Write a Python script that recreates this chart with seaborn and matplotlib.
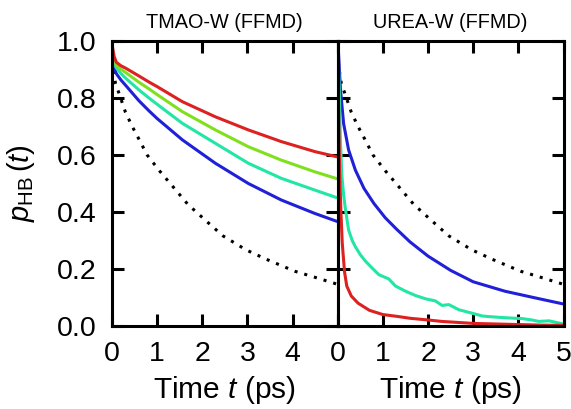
import numpy as np
import matplotlib
matplotlib.use("Agg")
import matplotlib.pyplot as plt
import seaborn as sns

# TMAO-W (FFMD) panel, time in ps
t_tmao = [0, 0.05, 0.1, 0.2, 0.3, 0.6, 0.82, 1.0, 1.56, 2.29, 3.02, 3.75, 4.49, 5.0]
tmao_red = [0.99, 0.945, 0.925, 0.913, 0.905, 0.877, 0.856, 0.84, 0.787, 0.734, 0.688,
            0.647, 0.612, 0.593]
tmao_green = [0.965, 0.93, 0.915, 0.901, 0.89, 0.855, 0.832, 0.812, 0.752, 0.688, 0.629,
              0.582, 0.541, 0.516]
tmao_cyan = [0.96, 0.92, 0.905, 0.886, 0.87, 0.828, 0.80, 0.778, 0.711, 0.641, 0.571,
             0.518, 0.477, 0.449]
tmao_blue = [0.955, 0.905, 0.885, 0.863, 0.845, 0.79, 0.755, 0.728, 0.653, 0.571, 0.50,
             0.442, 0.395, 0.366]

# reference curve (dotted), same in both panels
t_ref = [0, 0.04, 0.08, 0.16, 0.3, 0.45, 0.6, 0.78, 1.05, 1.35, 1.68, 2.09, 2.46,
         2.97, 3.42, 4.05, 4.45, 5.0]
p_ref = [0.93, 0.89, 0.85, 0.815, 0.75, 0.70, 0.655, 0.60, 0.545, 0.489, 0.427, 0.368,
         0.316, 0.267, 0.234, 0.192, 0.173, 0.146]

# UREA-W (FFMD) panel
t_urea_blue = [0, 0.02, 0.06, 0.13, 0.24, 0.39, 0.58, 0.8, 1.05, 1.3, 1.6, 2.0, 2.5,
               3.0, 3.7, 4.3, 5.0]
urea_blue = [1.0, 0.95, 0.83, 0.71, 0.618, 0.547, 0.483, 0.43, 0.38, 0.34, 0.295, 0.245,
             0.195, 0.155, 0.122, 0.101, 0.077]
t_urea_cyan = [0, 0.03, 0.06, 0.09, 0.13, 0.17, 0.24, 0.32, 0.39, 0.5, 0.61, 0.75, 0.91,
               1.13, 1.28, 1.5, 1.72, 1.95, 2.16, 2.31, 2.46, 2.68, 2.97, 3.2, 3.34, 3.6,
               3.93, 4.08, 4.3, 4.45, 4.68, 4.85, 5.0]
urea_cyan = [1.0, 0.85, 0.65, 0.53, 0.46, 0.41, 0.337, 0.30, 0.278, 0.25, 0.228, 0.205,
             0.18, 0.165, 0.14, 0.122, 0.107, 0.095, 0.088, 0.072, 0.075, 0.057, 0.045,
             0.035, 0.033, 0.03, 0.027, 0.026, 0.021, 0.016, 0.018, 0.012, 0.007]
t_urea_red = [0, 0.01, 0.02, 0.04, 0.07, 0.1, 0.15, 0.2, 0.3, 0.45, 0.7, 1.0, 1.3, 1.6,
              2.0, 2.3, 2.6, 3.0, 3.5, 4.0, 4.5, 5.0]
urea_red = [1.0, 0.88, 0.75, 0.55, 0.40, 0.29, 0.19, 0.14, 0.105, 0.08, 0.055, 0.04,
            0.034, 0.027, 0.021, 0.016, 0.013, 0.009, 0.007, 0.005, 0.003, 0.002]

RED, GREEN, CYAN, BLUE = "#dd2020", "#80e020", "#22e6a6", "#2020d8"

sns.set_style("ticks")
plt.rcParams["font.family"] = ["Liberation Sans", "DejaVu Sans"]
plt.rcParams["mathtext.fontset"] = "custom"
plt.rcParams["mathtext.rm"] = "Liberation Sans"
plt.rcParams["mathtext.it"] = "Liberation Sans:italic"
plt.rcParams["axes.linewidth"] = 2.2
for key in ["text.color", "axes.labelcolor", "xtick.color", "ytick.color", "axes.edgecolor"]:
    plt.rcParams[key] = "black"

fig, (ax1, ax2) = plt.subplots(1, 2, sharey=True, figsize=(5.71, 4.09), dpi=100)
fig.subplots_adjust(left=0.196, right=0.987, bottom=0.203, top=0.8998, wspace=0)

lw = 2.2
sns.lineplot(x=t_ref, y=p_ref, ax=ax1, color="black", lw=lw, linestyle=(0, (1, 2.3)))
sns.lineplot(x=t_tmao, y=tmao_blue, ax=ax1, color=BLUE, lw=lw)
sns.lineplot(x=t_tmao, y=tmao_cyan, ax=ax1, color=CYAN, lw=lw)
sns.lineplot(x=t_tmao, y=tmao_green, ax=ax1, color=GREEN, lw=lw)
sns.lineplot(x=t_tmao, y=tmao_red, ax=ax1, color=RED, lw=lw)

sns.lineplot(x=t_ref, y=p_ref, ax=ax2, color="black", lw=lw, linestyle=(0, (1, 2.3)))
sns.lineplot(x=t_urea_blue, y=urea_blue, ax=ax2, color=BLUE, lw=lw)
sns.lineplot(x=t_urea_cyan, y=urea_cyan, ax=ax2, color=CYAN, lw=lw)
sns.lineplot(x=t_urea_red, y=urea_red, ax=ax2, color=RED, lw=lw)

for ax in (ax1, ax2):
    ax.set_xlim(0, 5)
    ax.set_ylim(0, 1)
    ax.set_xticks([0, 1, 2, 3, 4, 5])
    ax.set_yticks([0, 0.2, 0.4, 0.6, 0.8, 1.0])
    ax.tick_params(direction="in", length=8.5, width=2.2, top=True, right=True,
                   labelsize=20.5, pad=11)
    ax.set_xlabel("Time $t$ (ps)", fontsize=21.5, labelpad=5)
    for s in ax.spines.values():
        s.set_visible(True)

ax1.set_xticklabels(["0", "1", "2", "3", "4", ""])
ax1.set_yticklabels(["0.0", "0.2", "0.4", "0.6", "0.8", "1.0"])
ax2.tick_params(labelleft=False)
ax1.set_ylabel(r"$p_{\mathrm{HB}}\,(t)$", fontsize=21, labelpad=14)
ax1.set_title("TMAO-W (FFMD)", fontsize=14.3, pad=9)
ax2.set_title("UREA-W (FFMD)", fontsize=14.3, pad=9)

fig.savefig("out.png", dpi=100)
